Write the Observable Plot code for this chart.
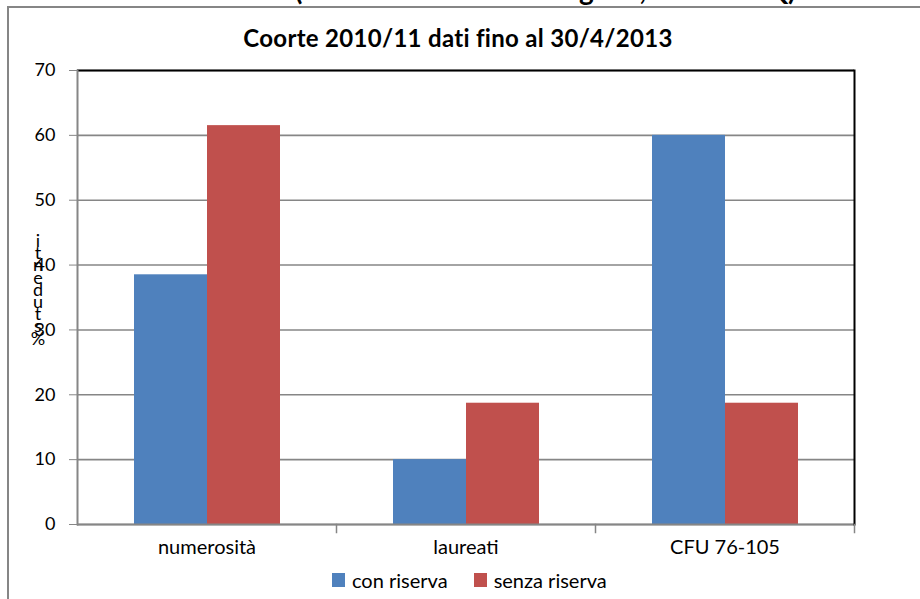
<!DOCTYPE html>
<html>
<head>
<meta charset="utf-8">
<script src="https://cdn.jsdelivr.net/npm/d3@7"></script>
<script src="https://cdn.jsdelivr.net/npm/@observablehq/plot@0.6"></script>
<style>
  html, body { margin:0; padding:0; background:#fff; width:920px; height:599px; overflow:hidden; position:relative; font-family: Lato, "DejaVu Sans", sans-serif; }
  #frame { position:absolute; left:7px; top:6px; width:1000px; height:700px; border:2px solid #868686; box-sizing:border-box; }
  #toptitle { position:absolute; left:0; width:938px; top:-25px; text-align:center; font-weight:bold; font-size:28px; line-height:28px; white-space:nowrap; color:#000; }
  #title { position:absolute; left:0; width:916px; top:24px; text-align:center; font-weight:bold; font-size:24px; line-height:28px; letter-spacing:0.3px; color:#000; }
  #chart { position:absolute; left:0; top:0; }
  #ylabel { position:absolute; left:28px; top:234px; width:20px; display:flex; flex-direction:column; align-items:center; font-size:18px; line-height:12.2px; color:#000; }
  #legend { position:absolute; left:332px; top:568px; display:flex; align-items:center; font-size:20px; color:#000; }
  .sw { width:13px; height:14px; display:inline-block; margin-right:7px; }
  .item { display:flex; align-items:center; margin-right:26px; }
</style>
</head>
<body>
<div id="frame"></div>
<div id="toptitle"></div>
<div id="title"></div>
<div id="chart"></div>
<div id="ylabel"></div>
<div id="legend"></div>
<script>
// ---- data ----
const topTitle = "GRAFICO 4 (fonte: Università di Cagliari, DASI e GQ)";
const chartTitle = "Coorte 2010/11 dati fino al 30/4/2013";
const yLabel = "%studenti";
const categories = ["numerosità", "laureati", "CFU 76-105"];
const series = ["con riserva", "senza riserva"];
const conRiserva = [38.5, 10.0, 60.0];
const senzaRiserva = [61.5, 18.7, 18.7];
const yTicks = [0, 10, 20, 30, 40, 50, 60, 70];
const colors = ["#4F81BD", "#C0504D"];

const data = categories.flatMap((c, i) => [
  {category: c, series: series[0], value: conRiserva[i]},
  {category: c, series: series[1], value: senzaRiserva[i]}
]);

document.getElementById("toptitle").textContent = topTitle;
document.getElementById("title").textContent = chartTitle;
const yl = document.getElementById("ylabel");
Array.from(yLabel).reverse().forEach(ch => { const s = document.createElement("span"); s.textContent = ch; yl.appendChild(s); });
const lg = document.getElementById("legend");
series.forEach((s, i) => {
  const it = document.createElement("div"); it.className = "item";
  const sw = document.createElement("span"); sw.className = "sw"; sw.style.background = colors[i];
  const t = document.createElement("span"); t.textContent = s;
  it.appendChild(sw); it.appendChild(t); lg.appendChild(it);
});

// ---- chart ----
const W = 920, H = 599, mL = 77, mR = 66, mT = 70, mB = 75;
const chart = Plot.plot({
  width: W, height: H,
  marginLeft: mL, marginRight: mR, marginTop: mT, marginBottom: mB,
  style: {fontFamily: "Lato, sans-serif", fontSize: "18px", color: "#000", background: "transparent"},
  fx: {domain: categories, padding: 0, label: null},
  x: {domain: series, paddingInner: 0, paddingOuter: 0.76, axis: null},
  y: {domain: [0, 70], label: null},
  color: {domain: series, range: colors},
  marks: [
    Plot.gridY(yTicks, {stroke: "#868686", strokeOpacity: 1, strokeWidth: 1.6}),
    Plot.barY(data, {fx: "category", x: "series", y: "value", fill: "series"}),
    Plot.ruleY([0], {stroke: "#868686", strokeWidth: 2}),
    Plot.ruleY([70], {stroke: "#000", strokeWidth: 2}),
    Plot.frame({anchor: "right", facetAnchor: "right", stroke: "#000", strokeWidth: 2}),
    Plot.frame({anchor: "left", facetAnchor: "left", stroke: "#868686", strokeWidth: 2}),
    Plot.frame({anchor: "right", stroke: "#868686", strokeWidth: 1.5, insetTop: H - mT - mB, insetBottom: -8}),
    Plot.axisY(yTicks, {tickSize: 8, tickPadding: 14, stroke: "#868686", fill: "#000", label: null, facetAnchor: "left", tickFormat: d => d}),
    Plot.axisFx({anchor: "bottom", tickSize: 0, tickPadding: 15, label: null, fill: "#000", fontSize: 20})
  ]
});
document.getElementById("chart").appendChild(chart);
</script>
</body>
</html>
